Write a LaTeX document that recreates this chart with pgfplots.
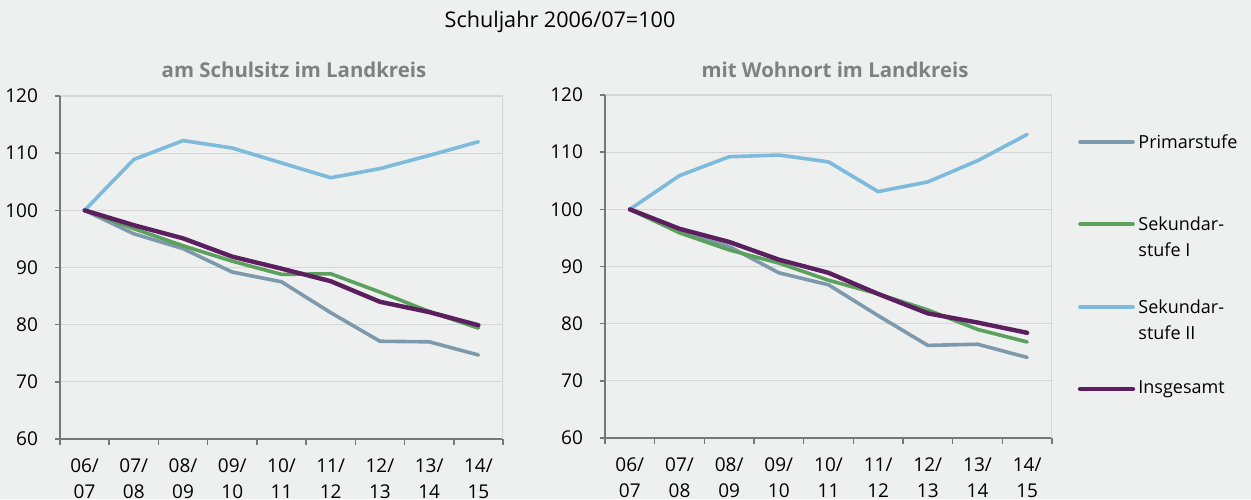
\documentclass[border=0pt]{standalone}
\usepackage{pgfplots}
\pgfplotsset{compat=1.18}
\usepackage{pgfplotstable}
\usepackage{fontspec}
\setmainfont{Open Sans}

\definecolor{bg}{HTML}{EEF0EF}
\definecolor{primar}{HTML}{7E99AB}
\definecolor{sekI}{HTML}{5CA05E}
\definecolor{sekII}{HTML}{7DBADB}
\definecolor{gesamt}{HTML}{5B1F5F}
\definecolor{axisgray}{HTML}{777777}
\definecolor{gridgray}{HTML}{D5D7D6}
\definecolor{subgray}{HTML}{808080}

% am Schulsitz im Landkreis
\pgfplotstableread{
x primar sekI  sekII ges
0 100.0  100.0 100.0 100.0
1 95.9   96.8  108.9 97.4
2 93.3   93.8  112.2 95.1
3 89.2   91.1  110.9 91.9
4 87.5   88.8  108.3 89.8
5 82.1   88.9  105.7 87.6
6 77.1   85.7  107.3 84.0
7 77.0   82.3  109.6 82.2
8 74.7   79.4  112.0 79.9
}\schulsitz

% mit Wohnort im Landkreis
\pgfplotstableread{
x primar sekI  sekII ges
0 100.0  100.0 100.0 100.0
1 96.1   95.9  105.9 96.6
2 93.5   92.9  109.2 94.3
3 88.9   90.6  109.5 91.2
4 86.8   87.6  108.3 88.9
5 81.4   85.2  103.1 85.2
6 76.2   82.4  104.8 81.8
7 76.4   79.0  108.5 80.2
8 74.1   76.8  113.1 78.4
}\wohnort

\pgfplotsset{
  panel/.style={
    scale only axis, height=171.5pt,
    xmin=-0.5, xmax=8.5, ymin=60, ymax=120,
    ytick={60,70,...,120},
    xtick={0,...,8},
    xticklabels={{06/\\07},{07/\\08},{08/\\09},{09/\\10},{10/\\11},{11/\\12},{12/\\13},{13/\\14},{14/\\15}},
    minor xtick={-0.5,0.5,...,8.5},
    every major x tick/.style={draw=none},
    axis x line*=bottom, axis y line*=left,
    axis line style={axisgray, line width=0.9pt},
    tick style={axisgray, line width=0.8pt},
    tick align=outside, major tick length=2.5pt, minor tick length=3pt,
    ymajorgrids, grid style={gridgray, line width=0.6pt},
    /pgf/number format/assume math mode=true,
    tick label style={font=\fontsize{9.5}{13}\selectfont, black},
    xticklabel style={align=center, yshift=-4pt},
    yticklabel style={xshift=-5pt},
    every axis plot/.append style={line join=round, line cap=round},
  },
}

\begin{document}
\begin{tikzpicture}
\path[use as bounding box, fill=bg] (0,0) rectangle (625.5pt,249.5pt);

\node[font=\fontsize{10.8}{13}\selectfont] at (280pt,238.5pt) {Schuljahr 2006/07=100};
\node[font=\bfseries\fontsize{10.2}{12}\selectfont, text=subgray] at (147pt,214.5pt) {am Schulsitz im Landkreis};
\node[font=\bfseries\fontsize{10.2}{12}\selectfont, text=subgray] at (417.5pt,214.5pt) {mit Wohnort im Landkreis};

\begin{axis}[panel, at={(30pt,30pt)}, anchor=south west, width=221.5pt]
\addplot[primar, line width=1.8pt] table[x=x, y=primar] {\schulsitz};
\addplot[sekI, line width=1.8pt] table[x=x, y=sekI] {\schulsitz};
\addplot[sekII, line width=1.8pt] table[x=x, y=sekII] {\schulsitz};
\addplot[gesamt, line width=2.2pt] table[x=x, y=ges] {\schulsitz};
\draw[gridgray, line width=0.6pt] (rel axis cs:1,0) -- (rel axis cs:1,1);
\end{axis}

\begin{axis}[panel, at={(302.5pt,30.5pt)}, anchor=south west, width=223.5pt]
\addplot[primar, line width=1.8pt] table[x=x, y=primar] {\wohnort};
\addplot[sekI, line width=1.8pt] table[x=x, y=sekI] {\wohnort};
\addplot[sekII, line width=1.8pt] table[x=x, y=sekII] {\wohnort};
\addplot[gesamt, line width=2.2pt] table[x=x, y=ges] {\wohnort};
\draw[gridgray, line width=0.6pt] (rel axis cs:1,0) -- (rel axis cs:1,1);
\end{axis}

% legend
\begin{scope}[every node/.style={anchor=west, inner sep=0pt, font=\fontsize{9}{12}\selectfont}]
\draw[primar, line width=1.8pt, line cap=round] (540pt,178.5pt) -- (566.5pt,178.5pt);
\node at (569pt,178.5pt) {Primarstufe};
\draw[sekI, line width=1.8pt, line cap=round] (540pt,137.5pt) -- (566.5pt,137.5pt);
\node at (569pt,137.5pt) {Sekundar-};
\node at (569pt,124.5pt) {stufe I};
\draw[sekII, line width=1.8pt, line cap=round] (540pt,96pt) -- (566.5pt,96pt);
\node at (569pt,96pt) {Sekundar-};
\node at (569pt,83pt) {stufe II};
\draw[gesamt, line width=2.2pt, line cap=round] (540pt,55pt) -- (566.5pt,55pt);
\node at (569pt,55pt) {Insgesamt};
\end{scope}
\end{tikzpicture}
\end{document}
